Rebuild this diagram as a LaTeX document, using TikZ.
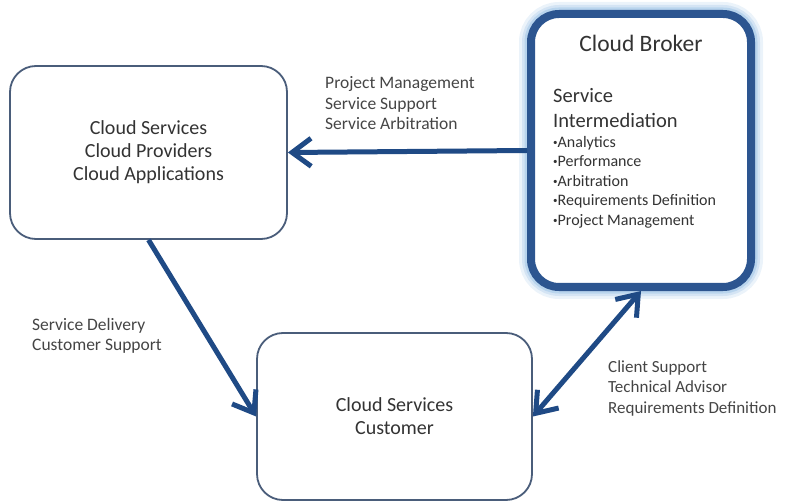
\documentclass[tikz,border=0pt]{standalone}
\usepackage{fontspec}
\setmainfont{Carlito}
\usetikzlibrary{arrows.meta}
\definecolor{arrowblue}{HTML}{1F4A85}
\definecolor{brokerblue}{HTML}{2C5590}
\definecolor{glowblue}{HTML}{9DC3E6}
\definecolor{boxedge}{HTML}{4A5D7A}
\definecolor{txt}{HTML}{333333}
\definecolor{lbl}{HTML}{454545}
\newcommand{\smallbul}{\raisebox{0.28ex}{\fontsize{9}{9}\selectfont •}}
\begin{document}
\begin{tikzpicture}[x=1pt,y=-1pt,
  plainbox/.style={draw=boxedge, line width=1.8pt, rounded corners=26pt, fill=white,
    inner sep=0pt, align=center, text=txt, font=\fontsize{20}{23}\selectfont},
  brokerbox/.style={draw=brokerblue, line width=8pt, rounded corners=28pt, fill=white,
    inner sep=0pt, minimum width=220pt, minimum height=273pt,
    preaction={draw=glowblue, line width=24pt, draw opacity=0.2},
    preaction={draw=glowblue, line width=18pt, draw opacity=0.3},
    preaction={draw=glowblue, line width=13pt, draw opacity=0.5}},
  tipshape/.tip={Straight Barb[length=19pt,width=28pt]},
  flow/.style={draw=arrowblue, line width=5pt, -tipshape},
  twoway/.style={draw=arrowblue, line width=5pt, tipshape-tipshape},
  lab/.style={anchor=base west, inner sep=0pt, text=lbl},
]
\useasboundingbox (0,0) rectangle (786,502);

\node[plainbox, minimum width=277pt, minimum height=173pt] (prov) at (148.5,152.5)
  {Cloud Services\\Cloud Providers\\Cloud Applications};
\node[brokerbox] (broker) at (641,150.5) {};
\node[plainbox, minimum width=275pt, minimum height=167pt] (cust) at (394.5,416.5)
  {Cloud Services\\Customer};

\node[anchor=base, inner sep=0pt, text=txt, font=\fontsize{23.5}{28}\selectfont] (btitle) at (641,52) {Cloud Broker};
\node[anchor=base west, inner sep=0pt, text=txt] (bbody) at (553,103)
  {\vtop{\fontsize{20.5}{25}\selectfont\hbox{Service}\hbox{Intermediation}%
   \fontsize{16}{19.5}\selectfont\hbox{\smallbul Analytics}\hbox{\smallbul Performance}\hbox{\smallbul Arbitration}%
   \hbox{\smallbul Requirements Definition}\hbox{\smallbul Project Management}}};

\draw[flow] (broker.west) -- (prov.east);
\draw[flow] (prov.south) -- (cust.west);
\draw[twoway] (cust.east) -- (broker.south);

\node[lab, font=\fontsize{17.5}{20.5}\selectfont] (l1) at (325,89)
  {\vtop{\hbox{Project Management}\hbox{Service Support}\hbox{Service Arbitration}}};
\node[lab, font=\fontsize{17.5}{20}\selectfont] (l2) at (32,330)
  {\vtop{\hbox{Service Delivery}\hbox{Customer Support}}};
\node[lab, font=\fontsize{17}{20.5}\selectfont] (l3) at (608,372)
  {\vtop{\hbox{Client Support}\hbox{Technical Advisor}\hbox{Requirements Definition}}};
\end{tikzpicture}
\end{document}
